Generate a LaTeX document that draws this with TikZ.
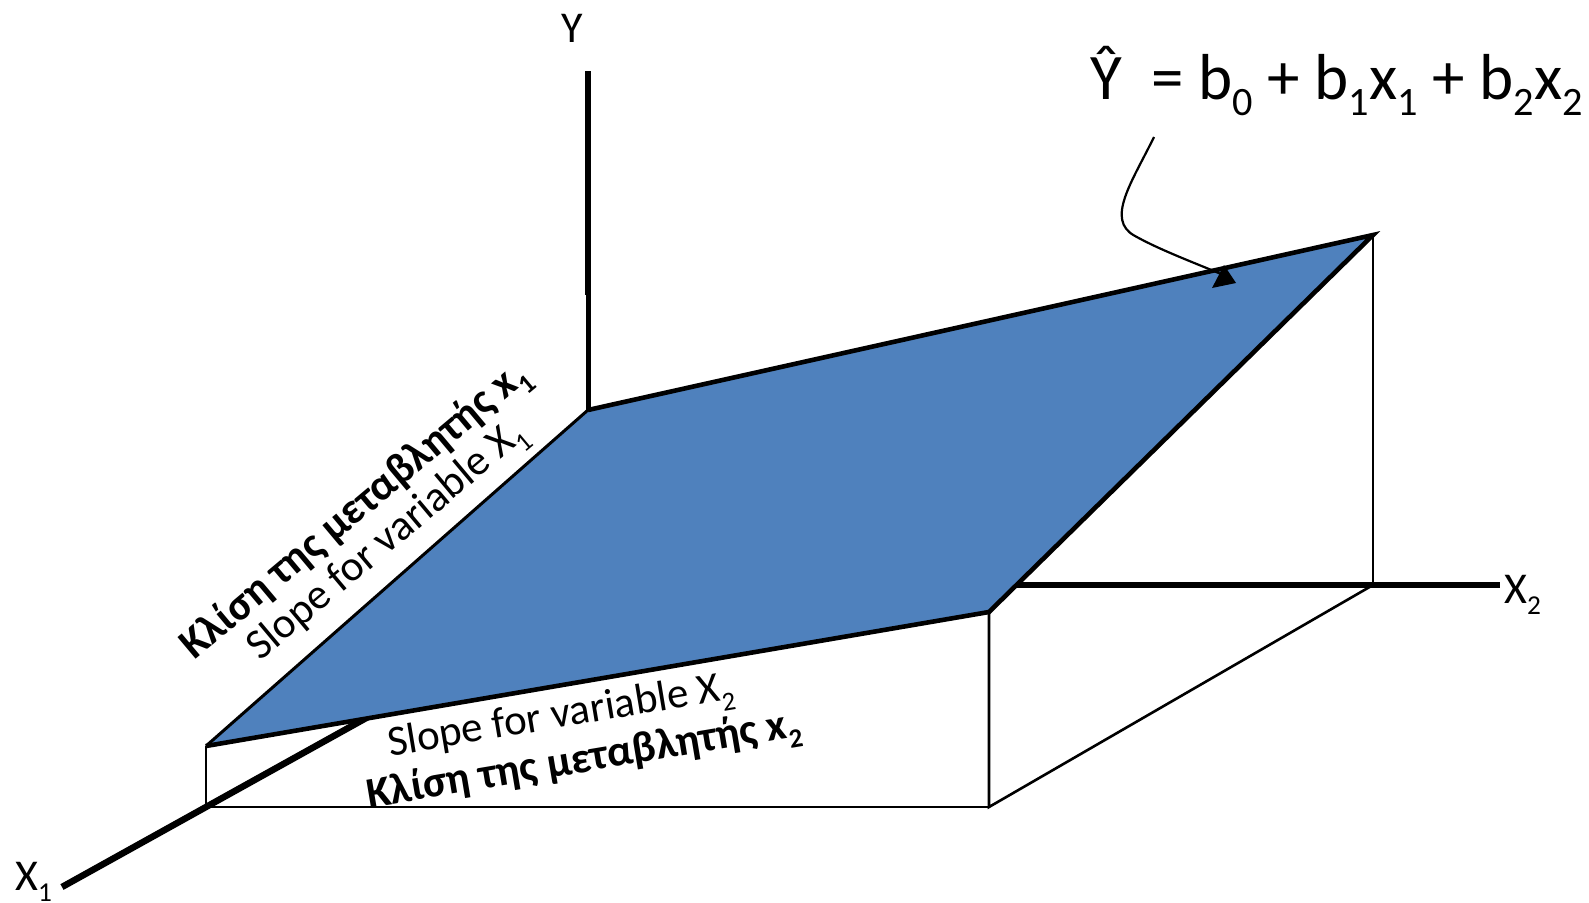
\documentclass[tikz,border=0pt]{standalone}
\usepackage{fontspec}
\setmainfont{Carlito}[BoldFont={Carlito Bold},ItalicFont={Carlito Italic}]
\newcommand\mysb[1]{\raisebox{-0.25em}{\scalebox{0.62}{#1}}}
\definecolor{planeblue}{RGB}{79,129,189}
\begin{document}
\begin{tikzpicture}[x=1pt,y=-1pt,line join=miter,
  thinline/.style={line width=2.6pt},
  axisline/.style={line width=6.5pt},
  planeedge/.style={line width=4.6pt},
  axislbl/.style={inner sep=0pt,font=\fontsize{44}{52}\selectfont},
  reglbl/.style={inner sep=0pt,font=\fontsize{43}{50}\selectfont},
  boldlbl/.style={inner sep=0pt,font=\fontsize{43.5}{50}\selectfont\bfseries},
  eqlbl/.style={inner sep=0pt,font=\fontsize{65}{72}\selectfont}]
\useasboundingbox (0,0) rectangle (1589,902);
% corners
\coordinate (A) at (588,410);
\coordinate (B) at (1373,235);
\coordinate (C) at (989,612);
\coordinate (D) at (206,746);
\coordinate (E) at (206,807);
\coordinate (F) at (989,807);
\coordinate (G) at (1373,585);
% axes ends
\coordinate (Ytop) at (588,71);
\coordinate (Ymid) at (588,295);
\coordinate (X1end) at (62,887);
\coordinate (X1hid) at (494,647);
\coordinate (X2hid) at (700,585);
\coordinate (X2end) at (1500,585);
% box lines
\draw[thinline] (D) -- (E) -- (F);
\draw[thinline] (C) -- (F) -- (G);
\draw[thinline] (B) -- (G);
% axes
\draw[axisline] (X1end) -- (X1hid);
\draw[axisline] (X2hid) -- (X2end);
\draw[axisline] (Ytop) -- (Ymid);
\draw[line width=5pt] (Ymid) -- (A);
% plane
\fill[planeblue] (A) -- (B) -- (C) -- (D) -- cycle;
\draw[line width=3pt] (D) -- (A);
\draw[planeedge] (A) -- (B) -- (C) -- (D);
% axis labels
\node[axislbl,anchor=base] (ylbl) at (572,42) {Y};
\node[axislbl,anchor=base west] (x2lbl) at (1504,603) {X\mysb{2}};
\node[axislbl,anchor=base west] (x1lbl) at (15,890) {X\mysb{1}};
% equation
\node[eqlbl,anchor=base west] (eq) at (1090,99) {Ŷ\ \ = b\mysb{0} + b\mysb{1}x\mysb{1} + b\mysb{2}x\mysb{2}};
% arrow
\coordinate (arS) at (1154,137);
\coordinate (arM) at (1135,236);
\coordinate (arE) at (1221,274);
\draw[line width=2.2pt] (arS) .. controls (1132,182) and (1105,220) .. (arM)
   .. controls (1160,250) and (1195,263) .. (arE);
\coordinate (tip) at (1224,265);
\fill (tip) -- (1212,288) -- (1236,283) -- cycle;
% slope labels
\node[reglbl,rotate=40] (s1) at (388,542) {Slope for variable X\mysb{1}};
\node[boldlbl,rotate=40] (k1) at (356,512) {Κλίση της μεταβλητής x\mysb{1}};
\node[reglbl,rotate=9.5] (s2) at (561,718) {Slope for variable X\mysb{2}};
\node[boldlbl,rotate=9.5] (k2) at (584,762) {Κλίση της μεταβλητής x\mysb{2}};
\end{tikzpicture}
\end{document}
